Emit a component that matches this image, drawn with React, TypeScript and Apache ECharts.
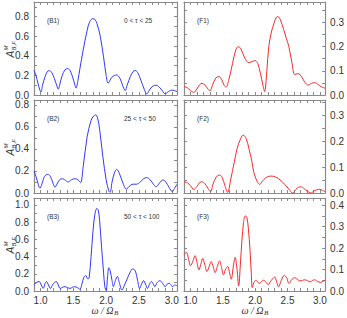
import React, { useEffect, useRef } from "react";
import * as echarts from "echarts";

// ---- data: [omega/Omega_B, amplitude] ----
const B1: number[][] = [
  [0.90, 0.255], [0.93, 0.20], [0.96, 0.12], [0.99, 0.05], [1.007, 0.03], [1.03, 0.10], [1.07, 0.19], [1.10, 0.235],
  [1.133, 0.25], [1.17, 0.23], [1.21, 0.17], [1.25, 0.09], [1.27, 0.06], [1.29, 0.10], [1.33, 0.20], [1.37, 0.255],
  [1.41, 0.27], [1.45, 0.25], [1.49, 0.18], [1.52, 0.11], [1.54, 0.07], [1.57, 0.15], [1.60, 0.27], [1.65, 0.46],
  [1.71, 0.66], [1.75, 0.75], [1.795, 0.78], [1.83, 0.77], [1.86, 0.73], [1.91, 0.60], [1.96, 0.39], [2.00, 0.20],
  [2.03, 0.12], [2.06, 0.15], [2.10, 0.19], [2.16, 0.205], [2.21, 0.17], [2.25, 0.10], [2.29, 0.045], [2.32, 0.10],
  [2.37, 0.19], [2.41, 0.24], [2.44, 0.25], [2.48, 0.23], [2.53, 0.15], [2.58, 0.06], [2.62, 0.01], [2.66, 0.05],
  [2.71, 0.09], [2.76, 0.10], [2.81, 0.08], [2.86, 0.04], [2.90, 0.01], [2.94, 0.03], [3.00, 0.05], [3.04, 0.045],
  [3.08, 0.035],
];
const B2: number[][] = [
  [0.90, 0.20], [0.93, 0.15], [0.96, 0.09], [0.99, 0.043], [1.02, 0.08], [1.06, 0.15], [1.11, 0.17], [1.15, 0.15],
  [1.19, 0.09], [1.22, 0.052], [1.25, 0.08], [1.29, 0.12], [1.33, 0.13], [1.38, 0.115], [1.42, 0.10], [1.47, 0.12],
  [1.52, 0.13], [1.57, 0.12], [1.61, 0.094], [1.65, 0.24], [1.71, 0.51], [1.77, 0.66], [1.81, 0.70], [1.84, 0.71],
  [1.87, 0.68], [1.90, 0.58], [1.95, 0.33], [2.00, 0.12], [2.04, 0.02], [2.06, 0.005], [2.09, 0.10], [2.13, 0.19],
  [2.16, 0.215], [2.20, 0.18], [2.25, 0.10], [2.31, 0.034], [2.35, 0.06], [2.41, 0.08], [2.46, 0.08], [2.52, 0.10],
  [2.57, 0.13], [2.62, 0.14], [2.67, 0.12], [2.72, 0.08], [2.76, 0.057], [2.80, 0.08], [2.84, 0.11], [2.87, 0.118],
  [2.91, 0.10], [2.96, 0.05], [3.01, 0.012], [3.04, 0.04], [3.08, 0.079],
];
const B3: number[][] = [
  [0.90, 0.07], [0.94, 0.10], [0.98, 0.11], [1.01, 0.07], [1.04, 0.03], [1.07, 0.09], [1.09, 0.11], [1.12, 0.07],
  [1.15, 0.03], [1.19, 0.08], [1.24, 0.11], [1.27, 0.07], [1.30, 0.03], [1.34, 0.045], [1.37, 0.05], [1.41, 0.04],
  [1.45, 0.03], [1.49, 0.045], [1.52, 0.05], [1.56, 0.04], [1.60, 0.02], [1.63, 0.08], [1.66, 0.16], [1.69, 0.18],
  [1.72, 0.14], [1.74, 0.15], [1.77, 0.40], [1.80, 0.70], [1.83, 0.90], [1.86, 0.96], [1.88, 0.94], [1.90, 0.82],
  [1.93, 0.51], [1.96, 0.22], [1.98, 0.05], [2.00, 0.005], [2.02, 0.15], [2.04, 0.27], [2.06, 0.24], [2.09, 0.12],
  [2.11, 0.05], [2.14, 0.12], [2.17, 0.17], [2.20, 0.10], [2.24, 0.01], [2.28, 0.07], [2.32, 0.14], [2.36, 0.21],
  [2.40, 0.255], [2.44, 0.24], [2.48, 0.12], [2.51, 0.03], [2.54, 0.08], [2.57, 0.12], [2.60, 0.08], [2.63, 0.03],
  [2.66, 0.08], [2.69, 0.11], [2.72, 0.08], [2.74, 0.05], [2.78, 0.10], [2.82, 0.12], [2.86, 0.09], [2.90, 0.05],
  [2.93, 0.08], [2.96, 0.09], [2.99, 0.07], [3.01, 0.05], [3.05, 0.07], [3.08, 0.06],
];
const F1: number[][] = [
  [0.90, 0.035], [0.95, 0.03], [1.00, 0.018], [1.05, 0.011], [1.10, 0.025], [1.14, 0.042], [1.18, 0.048], [1.22, 0.042],
  [1.27, 0.025], [1.30, 0.017], [1.34, 0.04], [1.39, 0.07], [1.44, 0.076], [1.48, 0.065], [1.52, 0.04], [1.55, 0.032],
  [1.59, 0.06], [1.65, 0.13], [1.70, 0.186], [1.74, 0.20], [1.78, 0.19], [1.84, 0.152], [1.90, 0.133], [1.95, 0.138],
  [2.00, 0.142], [2.04, 0.13], [2.08, 0.09], [2.12, 0.04], [2.145, 0.014], [2.18, 0.10], [2.21, 0.20], [2.25, 0.26],
  [2.29, 0.296], [2.32, 0.318], [2.35, 0.324], [2.39, 0.31], [2.44, 0.27], [2.48, 0.235], [2.52, 0.20], [2.57, 0.13],
  [2.61, 0.085], [2.66, 0.088], [2.69, 0.085], [2.74, 0.065], [2.78, 0.048], [2.82, 0.041], [2.87, 0.048], [2.92, 0.051],
  [2.97, 0.044], [3.02, 0.034], [3.08, 0.028],
];
const F2: number[][] = [
  [0.90, 0.043], [0.95, 0.04], [1.00, 0.028], [1.05, 0.014], [1.10, 0.025], [1.14, 0.04], [1.18, 0.043], [1.22, 0.037],
  [1.27, 0.018], [1.31, 0.005], [1.35, 0.035], [1.40, 0.062], [1.45, 0.069], [1.49, 0.06], [1.53, 0.03], [1.575, 0.002],
  [1.62, 0.05], [1.68, 0.123], [1.72, 0.17], [1.76, 0.20], [1.815, 0.223], [1.86, 0.21], [1.906, 0.168], [1.95, 0.12],
  [1.98, 0.078], [2.03, 0.045], [2.07, 0.033], [2.11, 0.045], [2.16, 0.058], [2.21, 0.064], [2.26, 0.065], [2.31, 0.062],
  [2.36, 0.055], [2.41, 0.045], [2.46, 0.032], [2.52, 0.015], [2.58, 0.0], [2.63, 0.014], [2.67, 0.022], [2.71, 0.024],
  [2.75, 0.018], [2.80, 0.008], [2.86, 0.0], [2.91, 0.008], [2.96, 0.013], [3.00, 0.014], [3.04, 0.01], [3.08, 0.005],
];
const F3: number[][] = [
  [0.90, 0.17], [0.94, 0.18], [0.97, 0.15], [1.00, 0.118], [1.04, 0.14], [1.07, 0.165], [1.10, 0.135], [1.13, 0.098],
  [1.16, 0.125], [1.19, 0.152], [1.22, 0.125], [1.255, 0.091], [1.29, 0.115], [1.32, 0.137], [1.35, 0.115], [1.38, 0.086],
  [1.42, 0.12], [1.45, 0.141], [1.48, 0.11], [1.51, 0.075], [1.54, 0.10], [1.575, 0.115], [1.60, 0.09], [1.63, 0.055],
  [1.66, 0.11], [1.69, 0.157], [1.72, 0.10], [1.745, 0.023], [1.77, 0.12], [1.795, 0.236], [1.82, 0.32], [1.845, 0.35],
  [1.87, 0.345], [1.895, 0.29], [1.92, 0.19], [1.94, 0.08], [1.955, 0.016], [1.98, 0.04], [2.01, 0.05], [2.04, 0.042],
  [2.06, 0.035], [2.10, 0.045], [2.13, 0.05], [2.17, 0.04], [2.20, 0.03], [2.25, 0.05], [2.30, 0.065], [2.33, 0.045],
  [2.36, 0.02], [2.41, 0.055], [2.45, 0.073], [2.49, 0.06], [2.52, 0.035], [2.57, 0.055], [2.61, 0.062], [2.65, 0.055],
  [2.69, 0.047], [2.73, 0.05], [2.77, 0.052], [2.81, 0.048], [2.85, 0.043], [2.89, 0.05], [2.92, 0.052], [2.96, 0.045],
  [3.01, 0.04], [3.05, 0.045], [3.08, 0.05],
];

const PANEL_TAGS = ["(B1)", "(B2)", "(B3)", "(F1)", "(F2)", "(F3)"];
const RANGE_LABELS = ["0 < τ < 25", "25 < τ < 50", "50 < τ < 100"];
const Y_MAX = [0.95, 0.845, 1.08, 0.384, 0.358, 0.434];
const X_MIN = 0.9;
const X_MAX = 3.08;

const BLUE = "#2f3af5";
const RED = "#f52a2a";
const AXIS = "#8a8a8a";
const TXT = "#333";

export default function App() {
  const ref = useRef<HTMLDivElement>(null);
  useEffect(() => {
    if (!ref.current) return;
    const chart = echarts.init(ref.current, null, { renderer: "svg" });
    const seriesData = [B1, B2, B3, F1, F2, F3];
    const grids: any[] = [];
    const xAxes: any[] = [];
    const yAxes: any[] = [];
    const series: any[] = [];
    const graphics: any[] = [];
    const xFmt = (v: number) => {
      const r = Math.round(v * 10);
      return Math.abs(v * 10 - r) < 1e-6 && r % 5 === 0 ? (r / 10).toFixed(1) : "";
    };
    const yFmtL = (v: number) => {
      const r = Math.round(v * 10);
      return Math.abs(v * 10 - r) < 1e-6 && r % 2 === 0 ? (r / 10).toFixed(1) : "";
    };
    const yFmtR = (v: number) => {
      const r = Math.round(v * 20);
      return Math.abs(v * 20 - r) < 1e-6 && r % 2 === 0 ? (r / 20).toFixed(1) : "";
    };
    for (let i = 0; i < 6; i++) {
      const col = i < 3 ? 0 : 1;
      const row = i % 3;
      const left = col === 0 ? 34 : 184;
      const top = 2 + row * 98;
      grids.push({ left, top, width: 143, height: 93, containLabel: false });
      const tick = { show: true, inside: true, length: 3, lineStyle: { color: AXIS, width: 1 } };
      const line = { show: true, onZero: false, lineStyle: { color: AXIS, width: 1.2 } };
      ["bottom", "top"].forEach((pos) => {
        xAxes.push({
          gridIndex: i,
          type: "value",
          position: pos,
          min: X_MIN,
          max: X_MAX,
          interval: 0.1,
          axisLine: line,
          axisTick: tick,
          splitLine: { show: false },
          axisLabel: {
            show: pos === "bottom" && row === 2,
            formatter: xFmt,
            fontSize: 10,
            color: TXT,
            fontFamily: "Liberation Sans",
            margin: 4,
          },
        });
      });
      const yInt = col === 0 ? 0.1 : 0.05;
      ["left", "right"].forEach((pos) => {
        yAxes.push({
          gridIndex: i,
          type: "value",
          position: pos,
          min: 0,
          max: Y_MAX[i],
          interval: yInt,
          axisLine: line,
          axisTick: tick,
          splitLine: { show: false },
          axisLabel: {
            show: (col === 0 && pos === "left") || (col === 1 && pos === "right"),
            formatter: col === 0 ? yFmtL : yFmtR,
            fontSize: 10,
            color: TXT,
            fontFamily: "Liberation Sans",
            margin: 5,
          },
        });
      });
      series.push({
        type: "line",
        xAxisIndex: 2 * i,
        yAxisIndex: 2 * i,
        data: seriesData[i],
        showSymbol: false,
        smooth: 0.35,
        lineStyle: { color: col === 0 ? BLUE : RED, width: 1 },
        clip: true,
      });
      graphics.push({
        type: "text",
        x: left + 13,
        y: top + 18,
        style: { text: PANEL_TAGS[i], font: '6.5px "Liberation Sans"', fill: TXT, textVerticalAlign: "middle" },
      });
      if (col === 0) {
        graphics.push({
          type: "text",
          x: left + 90,
          y: top + 18,
          style: { text: RANGE_LABELS[row], font: '6.5px "Liberation Sans"', fill: TXT, textVerticalAlign: "middle" },
        });
        // y-axis name A^M_{B,F}
        graphics.push({
          type: "group",
          x: 10,
          y: top + 46.5 + 9,
          rotation: Math.PI / 2,
          children: [
            { type: "text", x: 0, y: 0, style: { text: "A", font: 'italic 10px "Liberation Sans"', fill: TXT, textVerticalAlign: "middle" } },
            { type: "text", x: 7, y: -4, style: { text: "M", font: 'italic 6px "Liberation Sans"', fill: TXT, textVerticalAlign: "middle" } },
            { type: "text", x: 7, y: 3.5, style: { text: "B,F", font: 'italic 6px "Liberation Sans"', fill: TXT, textVerticalAlign: "middle" } },
          ],
        });
      }
      if (row === 2) {
        const cx = left + 71.5;
        graphics.push({
          type: "group",
          x: cx - 14,
          y: 310,
          children: [
            { type: "text", x: 0, y: 0, style: { text: "ω / Ω", font: 'italic 10px "Liberation Serif"', fill: TXT, textVerticalAlign: "middle" } },
            { type: "text", x: 22.5, y: 3, style: { text: "B", font: 'italic 7px "Liberation Serif"', fill: TXT, textVerticalAlign: "middle" } },
          ],
        });
      }
    }
    chart.setOption({
      animation: false,
      backgroundColor: "#fff",
      grid: grids,
      xAxis: xAxes,
      yAxis: yAxes,
      series,
      graphic: graphics,
    });
    return () => chart.dispose();
  }, []);
  return <div ref={ref} style={{ width: 347, height: 318, position: "absolute", left: 0, top: 0 }} />;
}
